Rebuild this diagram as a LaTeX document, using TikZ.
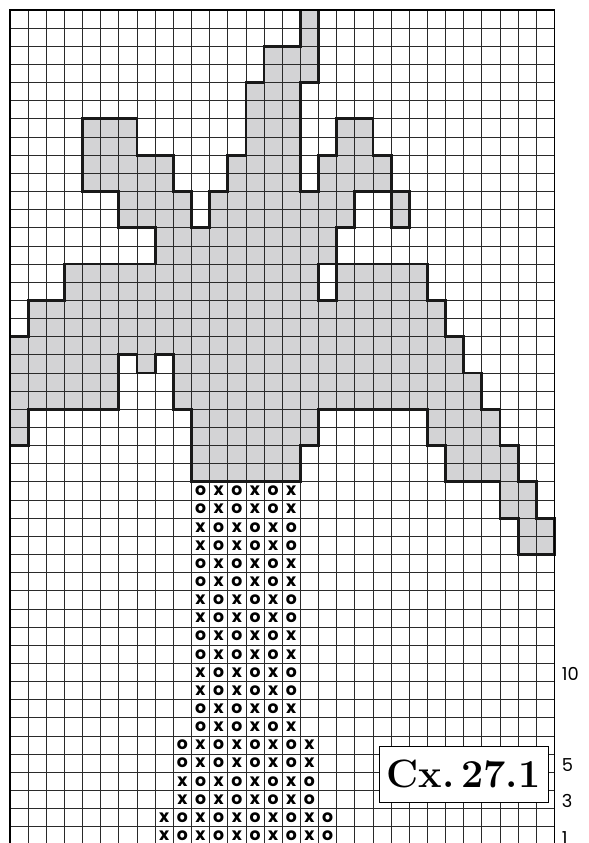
\documentclass[tikz,border=0pt]{standalone}
\usepackage{fontspec}
\usepackage{tikz}
\usetikzlibrary{positioning}
\newfontfamily\chartfont{Poppins}
\definecolor{cellgray}{HTML}{D3D3D5}
\definecolor{gridink}{HTML}{2A2A2A}
\tikzset{
  gridline/.style={draw=gridink, line width=0.6pt},
  frameline/.style={draw=black, line width=1.3pt},
  motiffill/.style={fill=cellgray},
  motifline/.style={draw=black!90, line width=2.2pt, line join=miter},
  stitch/.style={inner sep=0pt, font=\chartfont\bfseries\fontsize{13.5}{13.5}\selectfont},
  rowlabel/.style={anchor=west, inner sep=0pt, font=\chartfont\fontsize{14}{14}\selectfont},
  legendbox/.style={draw=black, line width=0.8pt, fill=white, inner sep=0pt,
                    minimum width=4.66cm, minimum height=1.53cm,
                    font=\bfseries\fontsize{31}{31}\selectfont}}
% outline of the grey motif, corners in (column, row from top)
\newcommand\motifpath{(16,0) -- (17,0) -- (17,4) -- (16,4) -- (16,10) -- (17,10)
  -- (17,8) -- (18,8) -- (18,6) -- (20,6) -- (20,8) -- (21,8) -- (21,10)
  -- (19,10) -- (19,12) -- (18,12) -- (18,14) -- (23,14) -- (23,16) -- (24,16)
  -- (24,18) -- (25,18) -- (25,20) -- (26,20) -- (26,22) -- (27,22) -- (27,24)
  -- (28,24) -- (28,26) -- (29,26) -- (29,28) -- (30,28) -- (30,30) -- (28,30)
  -- (28,28) -- (27,28) -- (27,26) -- (24,26) -- (24,24) -- (23,24) -- (23,22)
  -- (17,22) -- (17,24) -- (16,24) -- (16,26) -- (10,26) -- (10,22) -- (9,22)
  -- (9,19) -- (8,19) -- (8,20) -- (7,20) -- (7,19) -- (6,19) -- (6,22)
  -- (1,22) -- (1,24) -- (0,24) -- (0,18) -- (1,18) -- (1,16) -- (3,16)
  -- (3,14) -- (8,14) -- (8,12) -- (6,12) -- (6,10) -- (4,10) -- (4,6)
  -- (7,6) -- (7,8) -- (9,8) -- (9,10) -- (10,10) -- (10,12) -- (11,12)
  -- (11,10) -- (12,10) -- (12,8) -- (13,8) -- (13,4) -- (14,4) -- (14,2)
  -- (16,2) -- cycle
  (17,14) rectangle (18,16)
  (21,10) rectangle (22,12)}
\begin{document}
\begin{tikzpicture}[x=5mm, y=-5mm]
  \useasboundingbox (-0.55,-0.55) rectangle (31.85,45.9);
  \fill[white] (-0.55,-0.55) rectangle (31.85,45.9);
  \clip (-0.55,-0.55) rectangle (31.85,45.9);

  \fill[motiffill, even odd rule] \motifpath;

  \foreach \c in {0,...,30}
    \draw[gridline] (\c,0) -- (\c,46);
  \foreach \r in {0,...,46}
    \draw[gridline] (0,\r) -- (30,\r);

  \draw[motifline] \motifpath;
  \draw[frameline] (0,0) rectangle (30,46);

  % stitch symbols of the trunk
  \foreach \t in {26,...,45} {
    \pgfmathtruncatemacro\lo{\t<40 ? 10 : (\t<44 ? 9 : 8)}
    \pgfmathtruncatemacro\hi{25-\lo}
    \foreach \c in {\lo,...,\hi} {
      \pgfmathtruncatemacro\odd{mod(floor((\t-26)/2)+\c,2)}
      \node[stitch] (s-\c-\t) at (\c+0.5,\t+0.5) {\ifnum\odd=0 o\else x\fi};
    }
  }

  \node[legendbox] (legend) at (25.0,42.12) {Cx.\,27.1};

  \node[rowlabel] (r10) at (30.4,36.6) {10};
  \node[rowlabel] (r5) at (30.4,41.6) {5};
  \node[rowlabel] (r3) at (30.4,43.6) {3};
  \node[rowlabel] (r1) at (30.4,45.6) {1};
\end{tikzpicture}
\end{document}
